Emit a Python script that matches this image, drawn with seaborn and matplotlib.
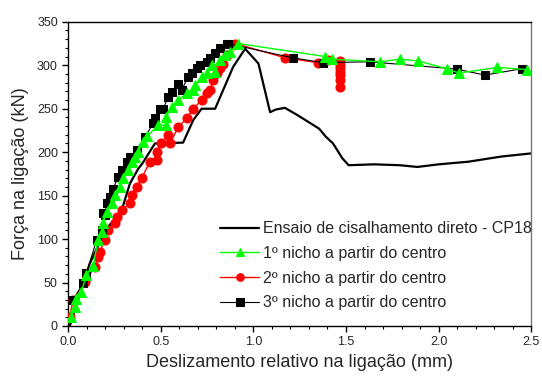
import numpy as np
import pandas as pd
import matplotlib
matplotlib.use("Agg")
import matplotlib.pyplot as plt
from matplotlib.ticker import MultipleLocator
import seaborn as sns

# Ensaio de cisalhamento direto - CP18 (black line)
ref_x = [0.0, 0.008, 0.06, 0.116, 0.2, 0.288, 0.333, 0.378, 0.40, 0.468, 0.62, 0.675, 0.72,
         0.793, 0.89, 0.955, 1.027, 1.09, 1.12, 1.17, 1.235, 1.31, 1.355, 1.39, 1.43, 1.48,
         1.514, 1.65, 1.79, 1.885, 2.0, 2.16, 2.34, 2.5]
ref_y = [-5, 0, 35, 72, 110, 133, 164, 181, 187, 210, 211, 237, 250,
         250, 298, 319, 302, 246, 249, 251, 243, 233, 227, 218, 210, 193,
         185, 186, 185, 183, 186, 189, 195, 198.6]

# 1º nicho a partir do centro (green triangles)
n1_x = [0.017, 0.035, 0.044, 0.071, 0.098, 0.134, 0.161, 0.18, 0.188, 0.207, 0.234, 0.252,
        0.279, 0.297, 0.324, 0.342, 0.36, 0.378, 0.405, 0.427, 0.486, 0.528, 0.528, 0.558,
        0.594, 0.64, 0.675, 0.685, 0.72, 0.748, 0.775, 0.793, 0.82, 0.847, 0.874, 0.919,
        1.388, 1.424, 1.686, 1.79, 1.89, 2.044, 2.11, 2.317, 2.48]
n1_y = [10.7, 22, 30.7, 39.5, 58.7, 69, 99, 108.5, 118, 131.5, 141, 150.7,
        160, 170, 179.4, 189, 194.7, 200.5, 212, 218.5, 231, 231, 240.7, 251.5,
        260, 267.6, 271.5, 277, 286.8, 290.6, 300, 292.5, 306, 311.7, 315.5, 325,
        310, 307, 304, 307, 305, 296, 291, 297.5, 295]

# 2º nicho a partir do centro (red circles)
n2_x = [0.008, 0.026, 0.089, 0.143, 0.161, 0.17, 0.198, 0.215, 0.252, 0.261, 0.288, 0.333,
        0.342, 0.369, 0.396, 0.441, 0.477, 0.477, 0.50, 0.54, 0.549, 0.594, 0.64, 0.675,
        0.72, 0.748, 0.766, 0.784, 0.802, 0.82, 0.838, 0.856, 0.892, 0.901,
        1.171, 1.346, 1.405, 1.469, 1.469, 1.469, 1.469, 1.469, 1.469, 1.469]
n2_y = [10.7, 30, 51, 68, 79.7, 85.5, 99, 110, 118, 125.7, 133.4, 141,
        150.7, 160, 170, 189, 191, 200.5, 210, 219.7, 210, 229, 239, 250,
        260, 267.6, 271.5, 283, 290.6, 296.4, 302, 311.7, 323, 325,
        308.6, 303, 306, 305, 300, 296.5, 292.5, 289, 283, 275]

# 3º nicho a partir do centro (black squares)
n3_x = [0.026, 0.08, 0.098, 0.153, 0.18, 0.188, 0.198, 0.207, 0.225, 0.242, 0.27, 0.288,
        0.315, 0.333, 0.369, 0.414, 0.459, 0.468, 0.495, 0.513, 0.54, 0.558, 0.594, 0.612,
        0.648, 0.667, 0.694, 0.712, 0.748, 0.766, 0.793, 0.82, 0.856, 0.86,
        1.211, 1.376, 1.627, 2.097, 2.25, 2.45]
n3_y = [30, 49, 60.6, 99, 110, 129.6, 127.7, 141, 148.7, 158, 171.7, 179.4,
        189, 194.7, 202, 217.7, 233, 239, 250, 250, 263.8, 269.5, 279, 271.5,
        286.8, 290.6, 296.4, 300, 304, 308, 313.7, 319.4, 325, 325,
        308.6, 303, 304, 295.6, 288.7, 296]

labels = ["Ensaio de cisalhamento direto - CP18",
          "1º nicho a partir do centro",
          "2º nicho a partir do centro",
          "3º nicho a partir do centro"]

sns.set_style("ticks")
plt.rcParams["font.family"] = ["Liberation Sans", "DejaVu Sans"]

fig = plt.figure(figsize=(5.42, 3.76), dpi=100)
ax = fig.add_axes([0.126, 0.133, 0.854, 0.809])

GREEN = "#00ff00"
RED = "#ff0000"

sns.lineplot(x=ref_x, y=ref_y, sort=False, estimator=None, color="black", lw=1.6,
             ax=ax, zorder=2)
sns.lineplot(x=n2_x, y=n2_y, sort=False, estimator=None, color=RED, lw=1.0,
             marker="o", markersize=6.5, markeredgecolor=RED, ax=ax, zorder=3)
sns.lineplot(x=n3_x, y=n3_y, sort=False, estimator=None, color="black", lw=0.8,
             marker="s", markersize=6, markeredgecolor="black", ax=ax, zorder=4)
sns.lineplot(x=n1_x, y=n1_y, sort=False, estimator=None, color=GREEN, lw=1.0,
             marker="^", markersize=7.5, markeredgecolor=GREEN, ax=ax, zorder=5)

lines = ax.get_lines()
handles = [lines[0], lines[3], lines[1], lines[2]]
ax.legend(handles, labels, loc="lower right", bbox_to_anchor=(1.025, 0.015), frameon=False,
          fontsize=11.5, handlelength=2.4, handletextpad=0.25, labelspacing=0.6,
          borderaxespad=0.3, markerscale=0.85)

ax.set_xlim(0, 2.5)
ax.set_ylim(0, 350)
ax.xaxis.set_major_locator(MultipleLocator(0.5))
ax.xaxis.set_minor_locator(MultipleLocator(0.1))
ax.yaxis.set_major_locator(MultipleLocator(50))
ax.yaxis.set_minor_locator(MultipleLocator(10))
ax.xaxis.set_major_formatter(matplotlib.ticker.FormatStrFormatter("%.1f"))
ax.tick_params(which="major", direction="out", length=4, width=1, labelsize=9, color="black")
ax.tick_params(which="minor", direction="out", length=2.5, width=0.8, color="black")
for s in ax.spines.values():
    s.set_linewidth(1.0)
    s.set_color("black")
ax.spines["right"].set_color("#777777")

ax.set_xlabel("Deslizamento relativo na ligação (mm)", fontsize=13, labelpad=4)
ax.set_ylabel("Força na ligação (kN)", fontsize=13, labelpad=6)

fig.savefig("out.png", dpi=100)
